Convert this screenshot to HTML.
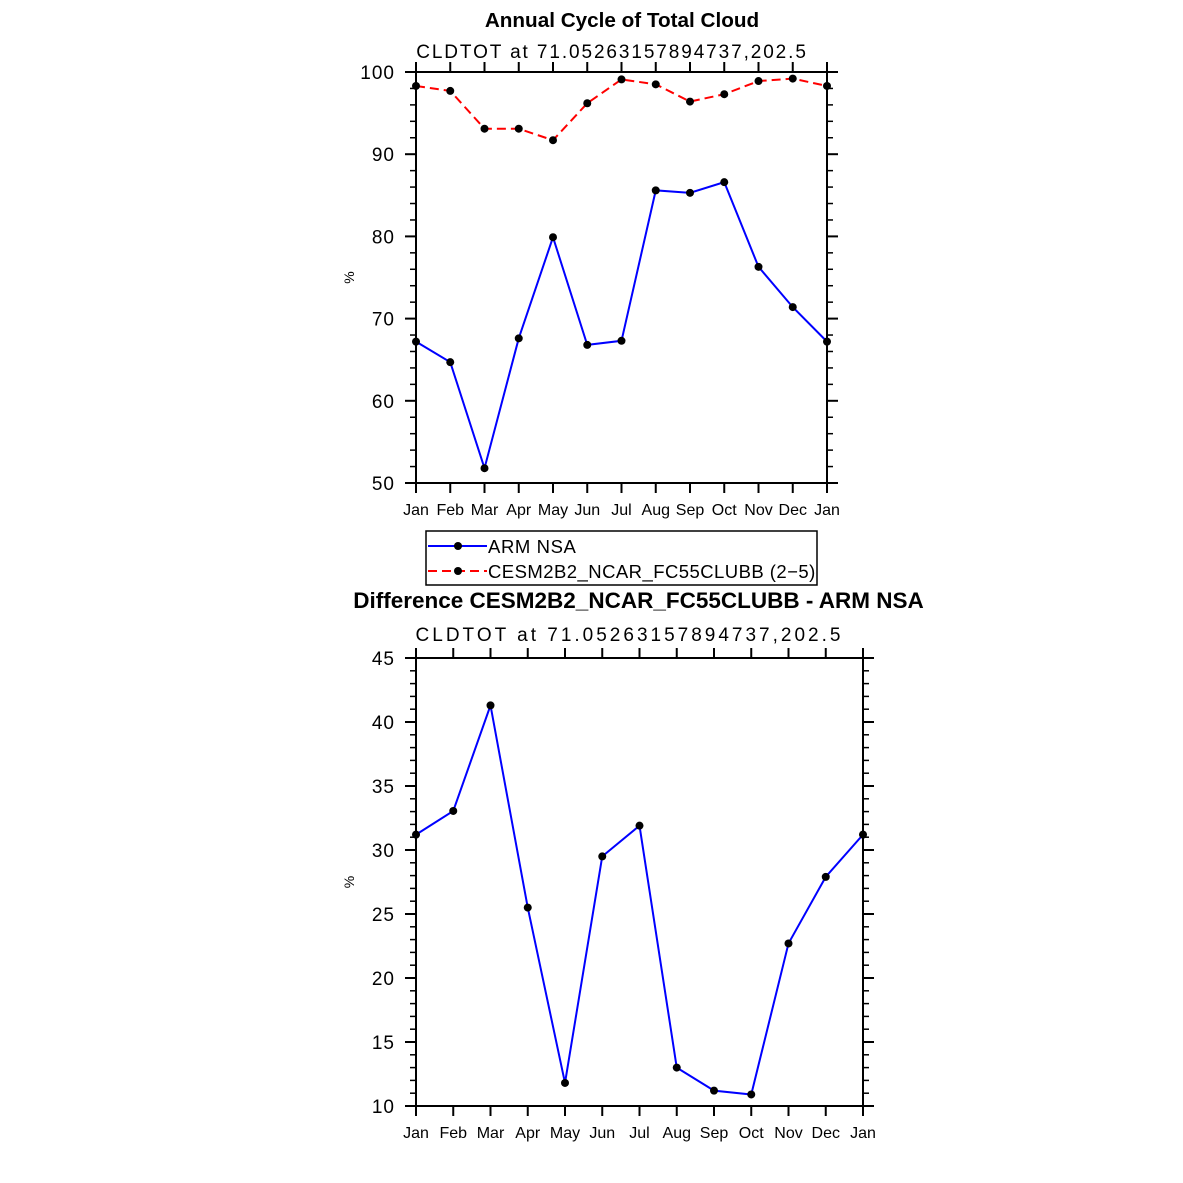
<!DOCTYPE html>
<html><head><meta charset="utf-8"><style>body{margin:0;background:#fff}svg{display:block}text{font-family:"Liberation Sans","DejaVu Sans",sans-serif;fill:#000}</style></head>
<body>
<svg id="c" width="1183" height="1183" viewBox="0 0 1183 1183" xmlns="http://www.w3.org/2000/svg"></svg>
<script>
const months = ["Jan","Feb","Mar","Apr","May","Jun","Jul","Aug","Sep","Oct","Nov","Dec","Jan"];
const armNsa = [67.2,64.7,51.8,67.6,79.9,66.8,67.3,85.6,85.3,86.6,76.3,71.4,67.2];
const cesm = [98.3,97.7,93.1,93.1,91.7,96.2,99.1,98.5,96.4,97.3,98.9,99.2,98.3];
const diffVals = [31.2,33.05,41.3,25.5,11.8,29.5,31.9,13.0,11.2,10.9,22.7,27.9,31.2];
const topTicks = [50,60,70,80,90,100];
const botTicks = [10,15,20,25,30,35,40,45];

const NS="http://www.w3.org/2000/svg";
const svg=document.getElementById('c');
function mk(tag,attrs,parent){const e=document.createElementNS(NS,tag);for(const k in attrs)e.setAttribute(k,attrs[k]);(parent||svg).appendChild(e);return e;}

function panel(p){
  const g=mk('g',{});
  
  
  const sx=i=>p.x0+(p.x1-p.x0)*i/12;
  const sy=v=>p.y1-(v-p.ymin)/(p.ymax-p.ymin)*(p.y1-p.y0);
  const t=mk('text',{x:(p.x0+p.x1)/2+p.toff,y:p.y0-p.ty,'text-anchor':'middle','font-size':p.tsize,'font-weight':'bold'},g);t.textContent=p.title;
  
  const st=mk('text',{x:(p.x0+p.x1)/2+p.soff,y:p.y0-p.sy,'text-anchor':'middle','font-size':19,'letter-spacing':p.sls},g);st.textContent="CLDTOT at 71.05263157894737,202.5";
  
  const fr=mk('rect',{x:p.x0,y:p.y0,width:p.x1-p.x0,height:p.y1-p.y0,fill:'none',stroke:'#000','stroke-width':2},g);
  
  months.forEach((m,i)=>{
    const x=sx(i);
    mk('line',{x1:x,x2:x,y1:p.y1,y2:p.y1+10,stroke:'#000','stroke-width':2},g);
    mk('line',{x1:x,x2:x,y1:p.y0,y2:p.y0-10,stroke:'#000','stroke-width':2},g);
    const l=mk('text',{x:x,y:p.y1+32,'text-anchor':'middle','font-size':16},g);l.textContent=m;
    
  });
  p.ticks.forEach((v,k)=>{
    const y=sy(v);
    mk('line',{x1:p.x0-11,x2:p.x0,y1:y,y2:y,stroke:'#000','stroke-width':2},g);
    mk('line',{x1:p.x1,x2:p.x1+11,y1:y,y2:y,stroke:'#000','stroke-width':2},g);
    const l=mk('text',{x:p.x0-21,y:y+7,'text-anchor':'end','font-size':19,'letter-spacing':'1'},g);l.textContent=v;
    
    if(k<p.ticks.length-1){const step=(p.ticks[k+1]-v)/5;for(let j=1;j<5;j++){const yy=sy(v+j*step);
      mk('line',{x1:p.x0-6,x2:p.x0,y1:yy,y2:yy,stroke:'#000','stroke-width':1.5},g);
      mk('line',{x1:p.x1,x2:p.x1+6,y1:yy,y2:yy,stroke:'#000','stroke-width':1.5},g);}}
  });
  const yl=mk('text',{x:0,y:0,'text-anchor':'middle','font-size':14,transform:`translate(${p.x0-62},${(p.y0+p.y1)/2}) rotate(-90)`},g);yl.textContent='%';
  
  p.series.forEach(s=>{
    const pts=s.data.map((v,i)=>sx(i)+','+sy(v)).join(' ');
    const pl=mk('polyline',{points:pts,fill:'none',stroke:s.color,'stroke-width':2,'stroke-dasharray':s.dash||'none'},g);
    
    s.data.forEach((v,i)=>{const c=mk('circle',{cx:sx(i),cy:sy(v),r:4,fill:'#000'},g);
      });
  });
}
panel({name:'annual-cycle-panel',x0:416,x1:827,y0:72,y1:483,ymin:50,ymax:100,ticks:topTicks,toff:0.5,soff:-9.5,tsize:20.7,ty:45,sy:14,sls:'1.9',
  title:'Annual Cycle of Total Cloud',
  series:[{name:'arm-nsa',data:armNsa,color:'#0000ff'},{name:'cesm2b2',data:cesm,color:'#ff0000',dash:'9,5'}]});
panel({name:'difference-panel',x0:416,x1:863,y0:658,y1:1106,ymin:10,ymax:45,ticks:botTicks,toff:-1,soff:-10,tsize:22.5,ty:50,sy:17,sls:'3',
  title:'Difference CESM2B2_NCAR_FC55CLUBB - ARM NSA',
  series:[{name:'difference',data:diffVals,color:'#0000ff'}]});
const lg=mk('g',{});


mk('rect',{x:426,y:531,width:391,height:54,fill:'none',stroke:'#000','stroke-width':1.5},lg);
mk('line',{x1:428,x2:487,y1:546,y2:546,stroke:'#0000ff','stroke-width':2},lg);
mk('circle',{cx:458,cy:546,r:4,fill:'#000'},lg);
const t1=mk('text',{x:488,y:553,'font-size':18.5,'letter-spacing':'0.6'},lg);t1.textContent='ARM NSA';

mk('line',{x1:428,x2:487,y1:571,y2:571,stroke:'#ff0000','stroke-width':2,'stroke-dasharray':'9,5'},lg);
mk('circle',{cx:458,cy:571,r:4,fill:'#000'},lg);
const t2=mk('text',{x:488,y:578,'font-size':18.5,'letter-spacing':'0.45'},lg);t2.textContent='CESM2B2_NCAR_FC55CLUBB (2\u22125)';

</script>
</body></html>
